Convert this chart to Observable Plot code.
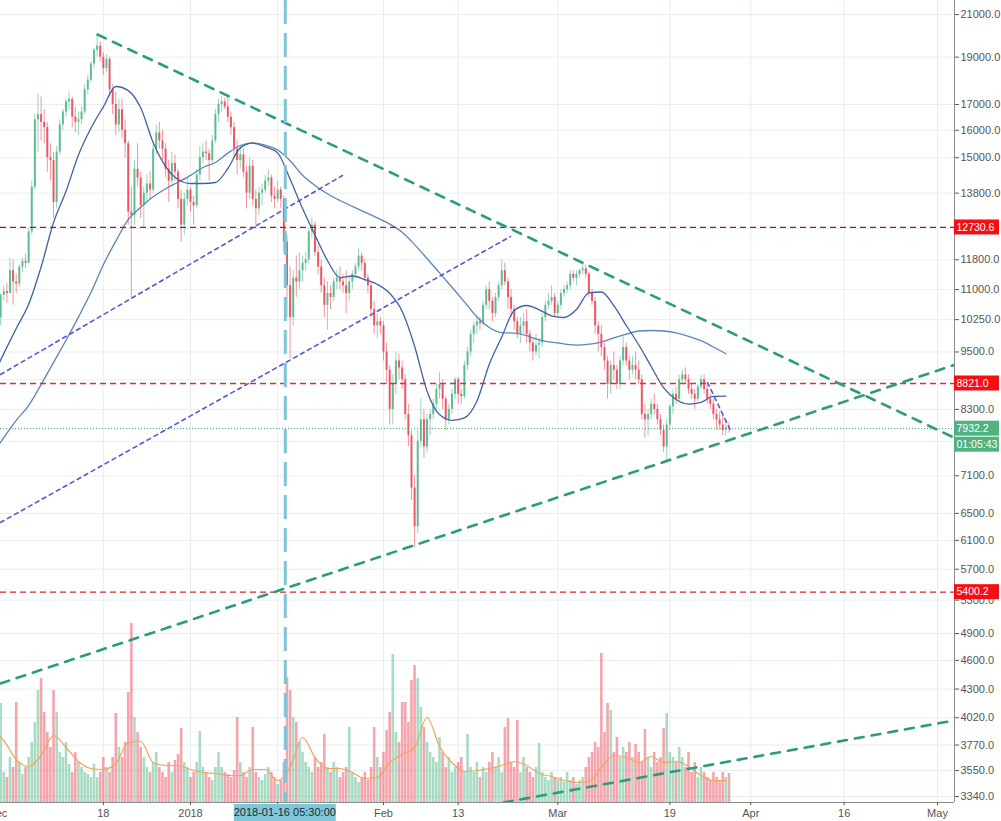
<!DOCTYPE html>
<html><head><meta charset="utf-8">
<script src="https://cdn.jsdelivr.net/npm/d3@7"></script>
<script src="https://cdn.jsdelivr.net/npm/@observablehq/plot@0.6"></script>
<style>
html,body{margin:0;padding:0;background:#fff;}
#chart{position:relative;width:1001px;height:821px;overflow:hidden;background:#fff;}
#chart svg{position:absolute;left:0;top:0;}
</style></head><body><div id="chart"></div>
<script>
// ---------- DATA (12h candles) ----------
const candleStart = "2017-12-01T12:00Z";
const opens = [10300,10850,10950,10900,11500,11200,11150,11600,11750,11700,
12600,14000,16400,16600,16300,16100,15000,14900,13500,15200,
16200,16700,17100,17200,16500,16300,16400,16700,17600,18000,
18700,19300,19500,19000,18500,18900,17600,17000,16200,16800,
16000,15500,13200,13100,14600,14300,13400,13800,14100,13900,
15300,15900,15600,15300,14600,14200,14800,14500,13600,12800,
13600,13900,13500,13400,14400,15000,15200,15150,14900,15600,
16600,17000,17100,16900,16500,16100,15300,14900,15100,14500,
13800,14700,13600,13300,13800,13900,14200,14300,13700,13600,
13900,13600,12300,11100,10300,11300,11200,11500,11700,11800,
12600,12800,12000,11600,11100,10600,10900,10800,11200,11300,
11200,11100,10900,11200,11400,11600,11900,11700,11300,11100,
10500,10100,10200,10100,9500,9100,8300,8800,9300,9150,
8900,8200,7800,6900,6300,7700,8100,7600,8100,8200,
8400,8700,8800,8500,8100,8300,8600,8900,8600,8550,
9200,9500,9900,10100,10200,10150,10600,11000,10700,10400,
10800,11100,11500,11200,10800,10500,10200,9900,10100,10200,
9900,9700,9500,9650,9700,10300,10600,10700,10800,10400,
10600,10900,11000,11100,11400,11300,11400,11500,11550,11400,
10900,10700,10100,9900,9600,9300,8800,9200,9100,8800,
9300,9600,9300,9100,9200,9100,8900,8200,8100,8200,
8400,8300,8100,7900,7600,8000,8350,8600,8500,8900,
9000,8900,8700,8600,8500,8750,8900,8700,8500,8400,
8200,8100,8000,7900,7950];
const highs = [10900,11100,11150,11850,11800,11400,11650,11850,11950,12700,
14200,16600,17400,17300,16800,16300,15500,15200,15400,16400,
16800,17200,17500,17300,16900,16700,16900,17800,18200,18800,
19400,20000,19700,19200,19100,19000,17800,17500,17200,17200,
16400,15600,14000,14900,15500,14500,14000,14400,14500,15500,
16200,16300,16000,15500,14900,15200,15100,14600,13900,13800,
14300,14000,13700,14600,15400,15500,15600,15300,15800,16800,
17200,17300,17250,17300,16700,16300,15600,15400,15300,14700,
15000,14900,13900,14000,14100,14400,14600,14400,14000,14200,
14000,13700,12500,11600,11500,11900,12000,11900,12000,12700,
13000,12900,12200,11800,11300,11200,11100,11300,11500,11600,
11400,11500,11300,11500,11700,12100,12000,11800,11400,11200,
10700,10400,10300,10200,9700,9200,9000,9500,9450,9300,
9000,8400,7900,7100,7900,8500,8300,8200,8300,8500,
8800,9050,8900,8550,8400,8700,8950,8950,8700,9300,
9600,10000,10200,10300,10300,10700,11100,11200,10800,10900,
11200,11800,11700,11300,11000,10600,10300,10300,10400,10500,
10000,9800,9900,9800,10400,10700,10900,11100,10900,10700,
11000,11100,11200,11500,11500,11500,11550,11700,11650,11450,
11000,10800,10200,10100,9700,9400,9300,9500,9200,9400,
9850,9700,9400,9400,9500,9300,9000,8400,8300,8500,
8600,8400,8200,8000,8100,8400,8700,8750,9000,9100,
9150,9000,8800,8700,8800,9000,9000,8800,8600,8500,
8300,8250,8200,8100,8050];
const lows = [10100,10700,10650,10900,10600,10900,11050,11450,11550,11700,
12500,13900,15200,15600,15500,14500,14200,13000,13300,15100,
16000,16500,16800,16100,15900,15800,16200,16600,17400,17900,
18500,19000,18800,18200,18300,17300,16600,15800,15900,15700,
15000,12800,10800,12800,14000,13000,12700,13500,13600,13800,
15100,15300,14900,14300,13500,14100,14200,13300,12300,12500,
13400,13200,12800,13300,14200,14800,14900,14200,14700,15500,
16300,16700,16800,16300,15800,15000,14400,14600,14300,13300,
13600,13400,12800,13100,13400,13800,14000,13500,13300,13500,
13300,12000,10300,9350,10100,10800,11000,11200,11500,11700,
12400,11900,11400,10900,10300,10000,10500,10700,11000,11000,
10900,10400,10700,11000,11300,11500,11500,11200,10900,10300,
9900,9800,9900,9300,8800,8000,8000,8600,8900,8700,
8100,7600,6700,6000,6200,7600,7400,7500,7800,8100,
8300,8500,8300,7900,8000,8200,8500,8400,8400,8500,
9100,9400,9700,9900,10000,10100,10500,10500,10200,10300,
10700,11000,11100,10500,10300,10000,9800,9700,9900,9700,
9500,9300,9400,9350,9600,10200,10500,10600,10300,10300,
10500,10800,10900,11000,11200,11100,11300,11400,11300,10800,
10600,9900,9500,9400,9100,8500,8600,8900,8700,8700,
9200,9200,8900,9000,8900,8800,8100,7750,7800,8100,
8200,8000,7800,7500,7320,7900,8200,8400,8450,8800,
8800,8600,8500,8300,8450,8700,8600,8400,8300,8100,
7900,7900,7800,7800,7850];
const closes = [10850,10950,10900,11500,11200,11150,11600,11750,11700,12600,
14000,16400,16600,16300,16100,15000,14900,13500,15200,16200,
16700,17100,17200,16500,16300,16400,16700,17600,18000,18700,
19300,19500,19000,18500,18900,17600,17000,16200,16800,16000,
15500,13200,13100,14600,14300,13400,13800,14100,13900,15300,
15900,15600,15300,14600,14200,14800,14500,13600,12800,13600,
13900,13500,13400,14400,15000,15200,15150,14900,15600,16600,
17000,17100,16900,16500,16100,15300,14900,15100,14500,13800,
14700,13600,13300,13800,13900,14200,14300,13700,13600,13900,
13600,12300,11100,10300,11300,11200,11500,11700,11800,12600,
12800,12000,11600,11100,10600,10900,10800,11200,11300,11200,
11100,10900,11200,11400,11600,11900,11700,11300,11100,10500,
10100,10200,10100,9500,9100,8300,8800,9300,9150,8900,
8200,7800,6900,6300,7700,8100,7600,8100,8200,8400,
8700,8800,8500,8100,8300,8600,8900,8600,8550,9200,
9500,9900,10100,10200,10150,10600,11000,10700,10400,10800,
11100,11500,11200,10800,10500,10200,9900,10100,10200,9900,
9700,9500,9650,9700,10300,10600,10700,10800,10400,10600,
10900,11000,11100,11400,11300,11400,11500,11550,11400,10900,
10700,10100,9900,9600,9300,8800,9200,9100,8800,9300,
9600,9300,9100,9200,9100,8900,8200,8100,8200,8400,
8300,8100,7900,7600,8000,8350,8600,8500,8900,9000,
8900,8700,8600,8500,8750,8900,8700,8500,8400,8200,
8100,8000,7900,7950,7932.2];
// volume per candle (hundreds of BTC)
const volumes = [99,30,25,45,35,100,40,28,35,45,
60,80,112,124,90,70,55,112,90,50,
45,60,38,30,50,40,35,30,28,25,
38,25,30,45,35,30,45,89,55,45,
60,110,179,85,70,55,45,35,30,40,
50,35,30,25,40,30,42,48,74,40,
35,25,30,40,71,35,30,25,22,35,
50,35,30,28,25,32,85,40,30,25,
35,75,30,25,22,28,35,30,25,18,
22,40,125,112,85,80,60,50,40,35,
30,45,35,40,68,35,30,40,35,25,
30,35,75,30,25,20,25,30,22,35,
75,45,35,50,72,90,148,70,60,100,
100,80,122,137,124,95,75,60,50,45,
40,65,50,35,45,30,35,40,45,30,
68,35,30,40,25,35,30,40,50,35,
45,30,75,84,40,35,82,30,45,35,
30,25,35,59,30,25,22,30,25,22,
25,20,30,22,25,18,22,25,35,45,
50,60,55,149,70,99,92,50,65,45,
55,50,60,45,58,50,40,73,45,35,
50,40,45,74,89,50,45,40,55,45,
35,50,30,40,25,35,30,25,22,30,
25,22,30,25,29];

// moving averages sampled every 2 days from 2017-11-30
const maStart = "2017-11-30T00:00Z";
const fastMA = [8904,9463,10039,10626,11600,12880,13860,15092,16074,16907,17734,17564,16868,15546,14696,14250,14117,14117,14150,14624,15350,15520,15389,15170,14257,13314,12504,11779,11317,11357,11264,11140,10905,10453,9627,8663,8199,8090,8135,8459,9230,9840,10473,10596,10490,10343,10302,10497,10915,10938,10592,10110,9663,9181,8734,8495,8405,8439,8559,8563];
const slowMA = [7440,7765,8088,8376,8798,9269,9766,10311,10923,11663,12329,12965,13349,13682,13945,14160,14389,14658,14832,15163,15436,15531,15451,15274,14894,14395,14054,13779,13564,13377,13196,13023,12831,12590,12228,11834,11443,11062,10689,10319,10062,9942,9928,9870,9771,9720,9682,9654,9675,9720,9822,9907,9980,9992,9980,9938,9856,9755,9611,9461];
const volumeMA = [72,62,43,36,47,67,55,41,34,33,39,60,61,40,37,37,33,30,29,27,27,33,33,22,35,65,45,34,34,30,24,25,40,48,55,85,56,40,31,32,34,37,41,37,29,26,22,20,21,35,47,45,40,46,40,41,36,27,22,22];

// axes
const priceTicks = [21000,19000,17000,16000,15000,13800,11800,11000,10250,9500,8300,7100,6500,6100,5700,5300,4900,4600,4300,4020,3770,3550,3340];
const hiddenPriceTicks = [12700,8900,7700];
const timeTicks = ["2017-12-01","2017-12-18","2018-01-01","2018-01-15","2018-02-01","2018-02-13","2018-03-01","2018-03-19","2018-04-01","2018-04-16","2018-05-01"];
const timeTickLabels = ["Dec","18","2018","","Feb","13","Mar","19","Apr","16","May"];

// drawings
const levels = [12730.6, 8821.0, 5400.2];
const lastPrice = 7932.2;
const countdown = "01:05:43";
const markerTime = "2018-01-16T05:30Z";
const markerLabel = "2018-01-16 05:30:00";
const greenTrendLines = [
  [["2017-12-17T01:30Z",20040],["2018-05-11T06:45Z",7370]],
  [["2017-12-01T11:30Z",4357],["2018-05-11T06:45Z",9562]],
  [["2018-02-20T06:45Z",3293],["2018-05-11T06:45Z",4076]]
];
const purpleLines = [
  [["2017-12-01T11:30Z",9010],["2018-01-25T10:00Z",14384]],
  [["2017-12-01T11:30Z",6362],["2018-02-21T09:45Z",12463]],
  [["2018-03-25T01:15Z",8842],["2018-03-28T21:45Z",7861]]
];

// ---------- BUILD ----------
const W = 1001, H = 821, MR = 47, MB = 19;
const UP = "#53b987", DOWN = "#eb4d5c", GRID = "#e7eef3";
const t0 = new Date(candleStart);
const candles = opens.map((o, i) => ({
  date: d3.utcHour.offset(t0, 12 * i), open: o, high: highs[i], low: lows[i], close: closes[i],
  volume: volumes[i], up: closes[i] >= o
}));
const upC = candles.filter(d => d.up), downC = candles.filter(d => !d.up);
const m0 = new Date(maStart);
const maRows = arr => arr.map((v, k) => ({date: d3.utcDay.offset(m0, 2 * k), value: v}));
const lineRows = lines => lines.flatMap((seg, id) => seg.map(([t, p]) => ({id, date: new Date(t), price: p})));
const tickDates = timeTicks.map(s => new Date(s + "T00:00Z"));
const tickLabelMap = new Map(tickDates.map((d, i) => [+d, timeTickLabels[i]]));

const common = {
  width: W, height: H, marginLeft: 0, marginRight: MR, marginTop: 0, marginBottom: MB,
  style: {background: "transparent", fontFamily: "'Liberation Sans', Arial, sans-serif", fontSize: "11px"}
};
const xDomain = [new Date("2017-12-01T11:30Z"), new Date("2018-05-03T17:30Z")];
const yDomain = [3293.4, 21708];

const gridPlot = Plot.plot({
  ...common,
  x: {type: "utc", domain: xDomain, axis: null},
  y: {type: "log", domain: yDomain, axis: null},
  marks: [
    Plot.ruleY([...priceTicks, ...hiddenPriceTicks], {stroke: GRID}),
    Plot.ruleX(tickDates, {stroke: GRID})
  ]
});

const volPlot = Plot.plot({
  ...common,
  x: {type: "utc", domain: xDomain, axis: null},
  y: {domain: [0, d3.max(volumes) * 4.48], axis: null},
  marks: [
    Plot.ruleX(upC, {x: "date", y1: 0, y2: "volume", stroke: UP, strokeOpacity: 0.5, strokeWidth: 2.6, clip: true}),
    Plot.ruleX(downC, {x: "date", y1: 0, y2: "volume", stroke: DOWN, strokeOpacity: 0.5, strokeWidth: 2.6, clip: true}),
    Plot.line(maRows(volumeMA), {x: "date", y: "value", stroke: "#f5a25d", strokeWidth: 1.2, curve: "monotone-x", clip: true})
  ]
});

const pricePlot = Plot.plot({
  ...common,
  x: {type: "utc", domain: xDomain, label: null},
  y: {type: "log", domain: yDomain, label: null},
  marks: [
    Plot.ruleX(upC, {x: "date", y1: "low", y2: "high", stroke: UP, strokeOpacity: 0.6, clip: true}),
    Plot.ruleX(downC, {x: "date", y1: "low", y2: "high", stroke: DOWN, strokeOpacity: 0.6, clip: true}),
    Plot.ruleX(upC, {x: "date", y1: "open", y2: "close", stroke: UP, strokeOpacity: 0.9, strokeWidth: 2, clip: true}),
    Plot.ruleX(downC, {x: "date", y1: "open", y2: "close", stroke: DOWN, strokeOpacity: 0.9, strokeWidth: 2, clip: true}),
    Plot.line(maRows(slowMA), {x: "date", y: "value", stroke: "#5a86bd", strokeWidth: 1.3, curve: "monotone-x", clip: true}),
    Plot.line(maRows(fastMA), {x: "date", y: "value", stroke: "#3f62a6", strokeWidth: 1.3, curve: "monotone-x", clip: true}),
    Plot.ruleY([levels[0]], {stroke: "#b3191f", strokeWidth: 1.3, strokeDasharray: "6,4"}),
    Plot.ruleY([levels[1]], {stroke: "#e03131", strokeWidth: 1.3, strokeDasharray: "6,4"}),
    Plot.ruleY([levels[2]], {stroke: "#d42a2a", strokeWidth: 1.3, strokeDasharray: "6,4"}),
    Plot.ruleY([lastPrice], {stroke: "#2f9e6c", strokeWidth: 1, strokeDasharray: "1,2"}),
    Plot.line(lineRows(purpleLines), {x: "date", y: "price", z: "id", stroke: "#5a55d9", strokeWidth: 1.6, strokeDasharray: "4,4", clip: true}),
    Plot.line(lineRows(greenTrendLines), {x: "date", y: "price", z: "id", stroke: "#2b9c80", strokeWidth: 2.6, strokeDasharray: "9,8", clip: true}),
    Plot.ruleX([new Date(markerTime)], {stroke: "#7cc6d7", strokeWidth: 3, strokeDasharray: "24,9"}),
    Plot.ruleX([xDomain[1]], {stroke: "#8c8c8c"}),
    Plot.ruleY([yDomain[0]], {stroke: "#8c8c8c"}),
    Plot.axisX(tickDates, {anchor: "bottom", tickSize: 3, tickPadding: 4, tickFormat: d => tickLabelMap.get(+d), fontSize: 11, color: "#555", label: null}),
    Plot.axisY(priceTicks, {anchor: "right", tickSize: 4, tickPadding: 2, tickFormat: d => d.toFixed(1), fontSize: 11, color: "#555", label: null})
  ]
});

const root = document.getElementById("chart");
root.append(gridPlot, volPlot, pricePlot);

// ---------- axis tags (positioned through Plot's own scales) ----------
const ysc = pricePlot.scale("y"), xsc = pricePlot.scale("x");
const yAt = v => ysc.apply ? ysc.apply(v) : d3.scaleLog(ysc.domain, ysc.range)(v);
const xAt = v => xsc.apply ? xsc.apply(v) : d3.scaleUtc(xsc.domain, xsc.range)(v);
const svg = d3.select(pricePlot);
const edge = W - MR;
function tag(cy, text, fill) {
  const g = svg.append("g");
  g.append("rect").attr("x", edge).attr("y", cy - 7.5).attr("width", 45).attr("height", 15).attr("fill", fill);
  g.append("text").attr("x", edge + 2.5).attr("y", cy).attr("dy", "0.35em").attr("text-anchor", "start")
    .attr("fill", "#fff").attr("font-size", 10.5).text(text);
}
levels.forEach(v => tag(yAt(v), v.toFixed(1), "#f50f0f"));
const lp = yAt(lastPrice);
tag(lp, lastPrice.toFixed(1), "#4fb380");
tag(lp + 16, countdown, "#4fb380");
const mx = xAt(new Date(markerTime));
const mg = svg.append("g");
mg.append("rect").attr("x", mx - 51).attr("y", H - MB + 2).attr("width", 102).attr("height", 17).attr("fill", "#7fc7d8");
mg.append("text").attr("x", mx).attr("y", H - MB + 10.5).attr("dy", "0.35em").attr("text-anchor", "middle")
  .attr("fill", "#1e2a2e").attr("font-size", 11).text(markerLabel);
</script></body></html>
